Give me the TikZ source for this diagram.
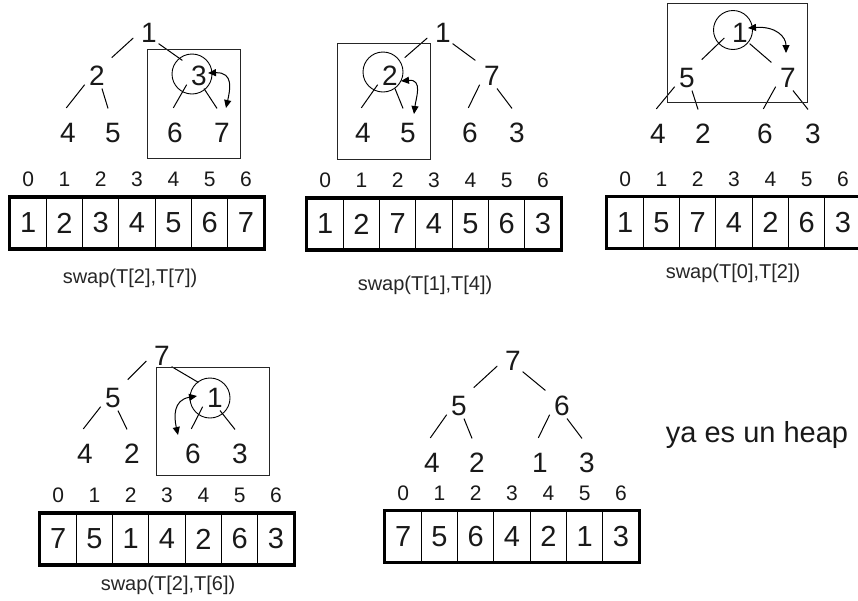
\documentclass[tikz,border=0pt]{standalone}
\usepackage{fontspec}
\setmainfont{Liberation Sans}
\usetikzlibrary{arrows.meta,positioning}

\tikzset{
  key/.style={circle, inner sep=0pt, minimum size=38pt, text height=30pt,
    text depth=0pt, font=\fontsize{28}{28}\selectfont, text=black!90},
  branch/.style={line width=1pt},
  ring/.style={draw, circle, line width=0.9pt, minimum size=40pt, inner sep=0pt},
  subtree/.style={draw=black!85, line width=0.9pt},
  swaparrow/.style={{Triangle[length=8pt,width=7pt]}-{Triangle[length=8pt,width=7pt]},
    line width=1pt},
  cell/.style={draw, line width=0.9pt, minimum width=36.3pt, minimum height=51pt,
    inner sep=0pt, font=\fontsize{29}{29}\selectfont, text=black!90},
  frame/.style={line width=3.5pt},
  idx/.style={inner sep=0pt, font=\fontsize{21}{21}\selectfont, text=black!90},
  swaplabel/.style={font=\fontsize{20}{20}\selectfont, text=black!85},
}

\begin{document}
\begin{tikzpicture}[x=1pt,y=-1pt]
    \fill[white] (0,0) rectangle (858,600);
    \useasboundingbox (0,0) rectangle (858,600);

    % step 1: sift down the 3
    \node[key] (T1a) at (149,27) {1};
    \node[key] (T1b) at (97,70) {2};
    \node[key] (T1c) at (199,70) {3};
    \node[key] (T1d) at (68,127) {4};
    \node[key] (T1e) at (113,127) {5};
    \node[key] (T1f) at (175,127) {6};
    \node[key] (T1g) at (222,127) {7};
    \foreach \p/\s/\c/\e in {a/215/b/40,a/300/c/150,b/230/d/95,b/285/e/105,c/230/f/95,c/285/g/105}
        \draw[branch] (T1\p.\s) -- (T1\c.\e);
    \node[ring] (R1) at (192,74) {};
    \draw[subtree] (147,49) rectangle (240,158);
    \draw[swaparrow] ([shift={(9,3)}]T1c.center) .. controls +(26,-1) and +(4,-18) .. ([shift={(4,-19)}]T1g.center);
    \foreach \v [count=\i from 0] in {1,2,3,4,5,6,7} {
        \node[cell] (A1c\i) at ({28.15+36.3*\i},223) {\v};
        \node[idx, above=10pt of A1c\i] (A1i\i) {\i};
    }
    \draw[frame] (A1c0.north west) rectangle (A1c6.south east);
    \node[swaplabel] (S1) at (130,278) {swap(T[2],T[7])};

    % step 2: sift down the 2
    \node[key] (T2a) at (443,27) {1};
    \node[key] (T2b) at (390,70) {2};
    \node[key] (T2c) at (492,70) {7};
    \node[key] (T2d) at (363,127) {4};
    \node[key] (T2e) at (408,127) {5};
    \node[key] (T2f) at (470,127) {6};
    \node[key] (T2g) at (517,127) {3};
    \foreach \p/\s/\c/\e in {a/215/b/40,a/300/c/150,b/230/d/95,b/285/e/105,c/230/f/95,c/285/g/105}
        \draw[branch] (T2\p.\s) -- (T2\c.\e);
    \node[ring] (R2) at (383,72) {};
    \draw[subtree] (337,43) rectangle (430,159);
    \draw[swaparrow] ([shift={(11,11)}]T2b.center) .. controls +(22,-2) and +(2,-16) .. ([shift={(6,-13)}]T2e.center);
    \foreach \v [count=\i from 0] in {1,2,7,4,5,6,3} {
        \node[cell] (A2c\i) at ({325.15+36.3*\i},224) {\v};
        \node[idx, above=10pt of A2c\i] (A2i\i) {\i};
    }
    \draw[frame] (A2c0.north west) rectangle (A2c6.south east);
    \node[swaplabel] (S2) at (425,285) {swap(T[1],T[4])};

    % step 3: sift down the root
    \node[key] (T3a) at (740,27) {1};
    \node[key] (T3b) at (687,72) {5};
    \node[key] (T3c) at (788,72) {7};
    \node[key] (T3d) at (658,128) {4};
    \node[key] (T3e) at (703,128) {2};
    \node[key] (T3f) at (765,128) {6};
    \node[key] (T3g) at (813,128) {3};
    \foreach \p/\s/\c/\e in {a/215/b/40,a/300/c/150,b/230/d/95,b/285/e/105,c/230/f/95,c/285/g/105}
        \draw[branch] (T3\p.\s) -- (T3\c.\e);
    \node[ring, minimum size=39pt] (R3) at (733,30) {};
    \draw[subtree] (667,3) rectangle (807,102);
    \draw[swaparrow] ([shift={(8,1)}]T3a.center) .. controls +(28,-2) and +(0,-16) .. ([shift={(-2,-19)}]T3c.center);
    \foreach \v [count=\i from 0] in {1,5,7,4,2,6,3} {
        \node[cell] (A3c\i) at ({625.15+36.3*\i},222.5) {\v};
        \node[idx, above=10pt of A3c\i] (A3i\i) {\i};
    }
    \draw[frame] (A3c0.north west) rectangle (A3c6.south east);
    \node[swaplabel] (S3) at (733,273) {swap(T[0],T[2])};

    % step 4: the 1 keeps going down
    \node[key] (T4a) at (162,350) {7};
    \node[key] (T4b) at (113,392) {5};
    \node[key] (T4c) at (215,392) {1};
    \node[key] (T4d) at (85,448) {4};
    \node[key] (T4e) at (132,448) {2};
    \node[key] (T4f) at (193,448) {6};
    \node[key] (T4g) at (240,448) {3};
    \foreach \p/\s/\c/\e in {a/215/b/40,a/300/c/150,b/230/d/95,b/285/e/105,c/230/f/95,c/285/g/105}
        \draw[branch] (T4\p.\s) -- (T4\c.\e);
    \node[ring] (R4) at (210,398) {};
    \draw[subtree] (156,367) rectangle (269,475);
    \draw[swaparrow] ([shift={(-18,4)}]T4c.center) .. controls +(-24,4) and +(-4,-18) .. ([shift={(-15,-13)}]T4f.center);
    \foreach \v [count=\i from 0] in {7,5,1,4,2,6,3} {
        \node[cell] (A4c\i) at ({58.15+36.3*\i},539) {\v};
        \node[idx, above=10pt of A4c\i] (A4i\i) {\i};
    }
    \draw[frame] (A4c0.north west) rectangle (A4c6.south east);
    \node[swaplabel] (S4) at (168,585) {swap(T[2],T[6])};

    % final heap
    \node[key] (T5a) at (513,355) {7};
    \node[key] (T5b) at (459,400) {5};
    \node[key] (T5c) at (562,400) {6};
    \node[key] (T5d) at (432,457) {4};
    \node[key] (T5e) at (477,457) {2};
    \node[key] (T5f) at (540,457) {1};
    \node[key] (T5g) at (587,457) {3};
    \foreach \p/\s/\c/\e in {a/215/b/40,a/300/c/150,b/230/d/95,b/285/e/105,c/230/f/95,c/285/g/105}
        \draw[branch] (T5\p.\s) -- (T5\c.\e);
    \foreach \v [count=\i from 0] in {7,5,6,4,2,1,3} {
        \node[cell] (A5c\i) at ({403.15+36.3*\i},536.5) {\v};
        \node[idx, above=10pt of A5c\i] (A5i\i) {\i};
    }
    \draw[frame] (A5c0.north west) rectangle (A5c6.south east);
    \node[font=\fontsize{29}{29}\selectfont, text=black!90] (done) at (757,435) {ya es un heap};
\end{tikzpicture}
\end{document}
